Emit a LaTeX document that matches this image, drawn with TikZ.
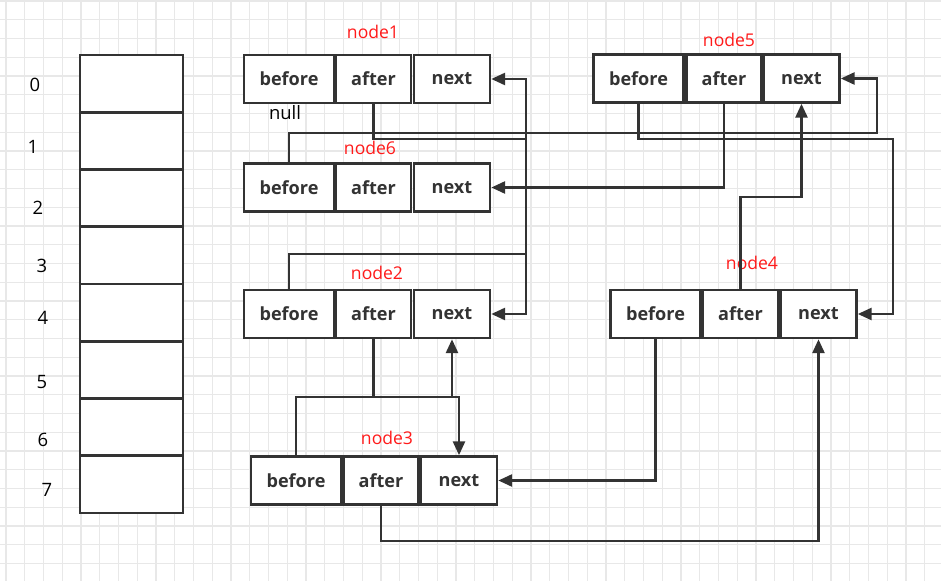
\documentclass[tikz,border=0pt]{standalone}
\usepackage{fontspec}
\setmainfont{Open Sans}
\usepackage{tikz}
\usetikzlibrary{arrows.meta,calc}
\definecolor{linegray}{HTML}{333333}
\definecolor{gridgray}{HTML}{E8E8E8}
\definecolor{labelred}{HTML}{FF1A1A}

\tikzset{
  cell/.style={draw=linegray, line width=0.05cm, fill=white, minimum height=0.96cm,
    inner sep=0pt, font=\bfseries\fontsize{10.3}{12}\selectfont, text=linegray},
  bcell/.style={cell, minimum width=1.8cm},
  acell/.style={cell, minimum width=1.5cm},
  ncell/.style={cell, minimum width=1.52cm},
  slot/.style={draw=linegray, line width=0.05cm, fill=white, minimum width=2.06cm,
    minimum height=1.145cm, inner sep=0pt},
  tag/.style={text=labelred, font=\fontsize{10}{12}\selectfont, inner sep=0pt},
  idx/.style={font=\fontsize{10.5}{12}\selectfont, inner sep=0pt},
  link/.style={draw=linegray, line width=0.055cm},
  ptr/.style={link, -{Triangle[length=0.28cm, width=0.24cm]}},
  gridline/.style={draw=gridgray, line width=0.6pt}
}

\begin{document}
\begin{tikzpicture}[x=0.02cm, y=-0.02cm]
\useasboundingbox (0,0) rectangle (941,581);
\fill[white] (0,0) rectangle (941,581);
\begin{scope}
\clip (0,0) rectangle (941,581);
\foreach \g in {0,...,49}
  \draw[gridline] ({6+\g*18.75},0) -- ({6+\g*18.75},581);
\foreach \g in {0,...,30}
  \draw[gridline] (0,{1+\g*18.75}) -- (941,{1+\g*18.75});
\end{scope}

% table slots
\foreach \i in {0,...,7}
  \node[slot] (slot\i) at (131.5,{83.625+57.25*\i}) {};
\foreach \i/\lx/\ly in {0/35/85,1/33/147,2/38/208,3/42/266,4/43/318,5/42/382,6/43/440,7/47/490}
  \node[idx] (idx\i) at (\lx,\ly) {\i};

% node1
\node[bcell] (n1b) at (289,79) {before};
\node[acell] (n1a) at (373.5,79) {after};
\node[ncell] (n1n) at (452,79) {next};
\node[tag] (t1) at (373,32) {node1};
\node[inner sep=0pt, font=\fontsize{10.5}{12}\selectfont] (nul) at (285,113) {null};

% node6
\node[bcell] (n6b) at (289,187.5) {before};
\node[acell] (n6a) at (373.5,187.5) {after};
\node[ncell] (n6n) at (452,187.5) {next};
\node[tag] (t6) at (370,148) {node6};

% node2
\node[bcell] (n2b) at (289,314) {before};
\node[acell] (n2a) at (373.5,314) {after};
\node[ncell] (n2n) at (452,314) {next};
\node[tag] (t2) at (377,273) {node2};

% node3
\node[bcell] (n3b) at (296,480.5) {before};
\node[acell] (n3a) at (381,480.5) {after};
\node[ncell] (n3n) at (459,480.5) {next};
\node[tag] (t3) at (387,438) {node3};

% node5
\node[bcell] (n5b) at (638.5,78.5) {before};
\node[acell] (n5a) at (724,78.5) {after};
\node[ncell] (n5n) at (801.5,78.5) {next};
\node[tag] (t5) at (729,40) {node5};

% node4
\node[bcell] (n4b) at (655.5,314) {before};
\node[acell] (n4a) at (740.5,314) {after};
\node[ncell] (n4n) at (818.5,314) {next};
\node[tag] (t4) at (752,263) {node4};

% bends
\coordinate (j1) at (526,139);
\coordinate (j2) at (526,254);
\coordinate (j3) at (877,133);
\coordinate (j4) at (893,139);
\coordinate (j5) at (n5n.south |- 0,197);
\coordinate (j6) at (n4n.south |- 0,541);
\coordinate (j7) at (n3n.north |- 0,397);
\coordinate (j8) at (n2n.south |- 0,397);

% links
\draw[ptr] (n1a.south) |- (j1) |- (n2n.east);
\draw[ptr] (n2b.north) |- (j2) |- (n1n.east);
\draw[ptr] (n6b.north) |- (j3) |- (n5n.east);
\draw[ptr] (n5a.south) |- (n6n.east);
\draw[ptr] (n5b.south) |- (j4) |- (n4n.east);
\draw[ptr] (n4a.north) |- (j5) -- (n5n.south);
\draw[ptr] (n4b.south) |- (n3n.east);
\draw[ptr] (n3a.south) |- (j6) -- (n4n.south);
\draw[ptr] (n2a.south) |- (j7) -- (n3n.north);
\draw[ptr] (n3b.north) |- (j8) -- (n2n.south);
\end{tikzpicture}
\end{document}
